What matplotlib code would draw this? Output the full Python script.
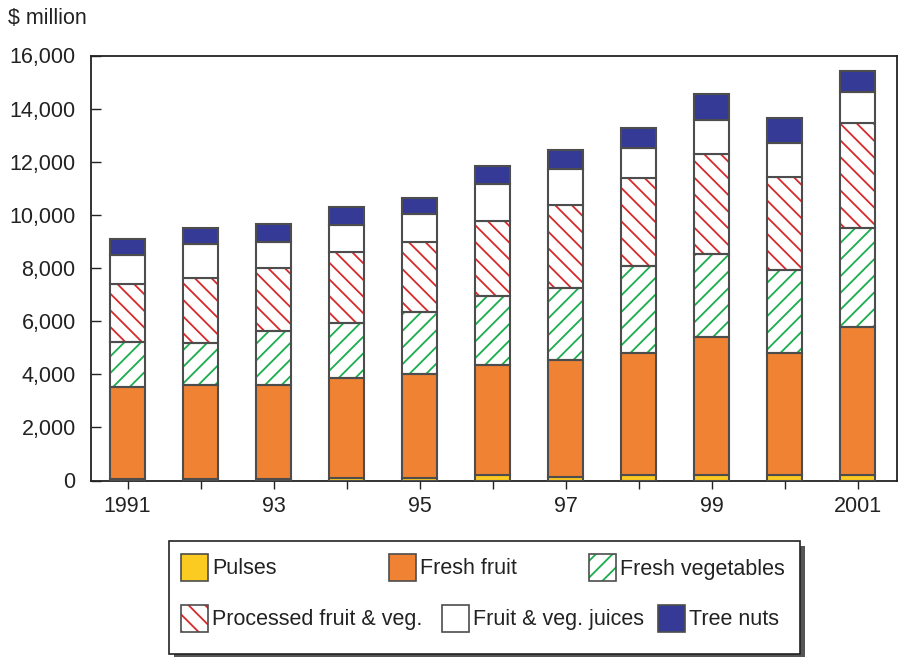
import numpy as np
import matplotlib
matplotlib.use("Agg")
import matplotlib.pyplot as plt
from matplotlib.patches import Rectangle

plt.rcParams['font.family'] = ['Liberation Sans', 'DejaVu Sans']
plt.rcParams['hatch.linewidth'] = 1.3

# data ($ million)
years = [1991, 1992, 1993, 1994, 1995, 1996, 1997, 1998, 1999, 2000, 2001]
year_labels = ['1991', '', '93', '', '95', '', '97', '', '99', '', '2001']
pulses = [50, 50, 50, 100, 100, 200, 150, 200, 200, 200, 200]
fresh_fruit = [3470, 3550, 3550, 3760, 3910, 4150, 4390, 4600, 5200, 4600, 5580]
fresh_veg = [1690, 1580, 2030, 2070, 2330, 2600, 2710, 3280, 3130, 3130, 3730]
processed = [2190, 2440, 2370, 2670, 2640, 2820, 3120, 3310, 3760, 3500, 3950]
juices = [1090, 1280, 980, 1020, 1050, 1390, 1360, 1130, 1280, 1280, 1170]
tree_nuts = [600, 610, 670, 680, 600, 680, 710, 750, 980, 940, 790]

series = [
    ('Pulses', pulses, '#fccb22', None, None),
    ('Fresh fruit', fresh_fruit, '#ef8333', None, None),
    ('Fresh vegetables', fresh_veg, 'white', '//', '#1aae4d'),
    ('Processed fruit & veg.', processed, 'white', '\\\\', '#d62a2c'),
    ('Fruit & veg. juices', juices, 'white', None, None),
    ('Tree nuts', tree_nuts, '#343a96', None, None),
]

edge = '#4d4d4d'
txt = '#222222'
W, H = 898, 657
fig = plt.figure(figsize=(W / 100, H / 100), dpi=100)
ax = fig.add_axes([91 / W, 1 - 480.5 / H, (897 - 91) / W, (480.5 - 55.5) / H])

x = np.arange(len(years))
bottom = np.zeros(len(years))
for name, vals, color, hatch, hcol in series:
    vals = np.array(vals, dtype=float)
    if hatch:
        ax.bar(x, vals, 0.49, bottom=bottom, color=color, edgecolor=hcol,
               hatch=hatch, linewidth=0, zorder=2)
        ax.bar(x, vals, 0.49, bottom=bottom, fill=False, edgecolor=edge,
               linewidth=1.5, zorder=3)
    else:
        ax.bar(x, vals, 0.49, bottom=bottom, color=color, edgecolor=edge,
               linewidth=1.5, zorder=3)
    bottom += vals

ax.set_xlim(-0.5, 10.54)
ax.set_ylim(0, 16000)
ax.set_yticks(np.arange(0, 16001, 2000))
ax.set_yticklabels([f'{v:,}' for v in range(0, 16001, 2000)])
ax.set_xticks(x)
ax.set_xticklabels(year_labels)
ax.tick_params(axis='y', direction='in', length=7, width=1, pad=11,
               labelsize=15.5, colors=txt)
ax.tick_params(axis='x', direction='out', length=6, width=1, pad=5.5,
               labelsize=15.5, colors=txt)
for s in ax.spines.values():
    s.set_linewidth(1.3)
    s.set_color(txt)

fig.text(8 / W, 1 - 19 / H, '$ million', fontsize=15.5, va='center', ha='left',
         color=txt)

# legend box with drop shadow, drawn by hand to match the row layout
def fx(px):
    return px / W

def fy(py):
    return 1 - py / H

bx0, bx1, by0, by1 = 169, 800, 541, 654
fig.add_artist(Rectangle((fx(bx0 + 5), fy(by1 + 5)), fx(bx1 - bx0), (by1 - by0) / H,
                         transform=fig.transFigure, facecolor='#555555',
                         edgecolor='none', zorder=1))
fig.add_artist(Rectangle((fx(bx0), fy(by1)), fx(bx1 - bx0), (by1 - by0) / H,
                         transform=fig.transFigure, facecolor='white',
                         edgecolor=txt, linewidth=1.2, zorder=2))

handle_pos = [(181, 567.5), (389, 567.5), (589, 567.5),
              (181, 618), (442, 618), (658, 618)]
for (name, vals, color, hatch, hcol), (hx, hy) in zip(series, handle_pos):
    hw, hh = 27, 27
    if hatch:
        fig.add_artist(Rectangle((fx(hx), fy(hy + hh / 2)), hw / W, hh / H,
                                 transform=fig.transFigure, facecolor=color,
                                 edgecolor=hcol, hatch=hatch, linewidth=0, zorder=3))
        fig.add_artist(Rectangle((fx(hx), fy(hy + hh / 2)), hw / W, hh / H,
                                 transform=fig.transFigure, fill=False,
                                 edgecolor=edge, linewidth=1.2, zorder=4))
    else:
        fig.add_artist(Rectangle((fx(hx), fy(hy + hh / 2)), hw / W, hh / H,
                                 transform=fig.transFigure, facecolor=color,
                                 edgecolor=edge, linewidth=1.2, zorder=3))
    fig.text(fx(hx + hw + 4), fy(hy + 1.5), name, fontsize=15.5, va='center',
             ha='left', color=txt, zorder=5)

fig.savefig('out.png', dpi=100)
